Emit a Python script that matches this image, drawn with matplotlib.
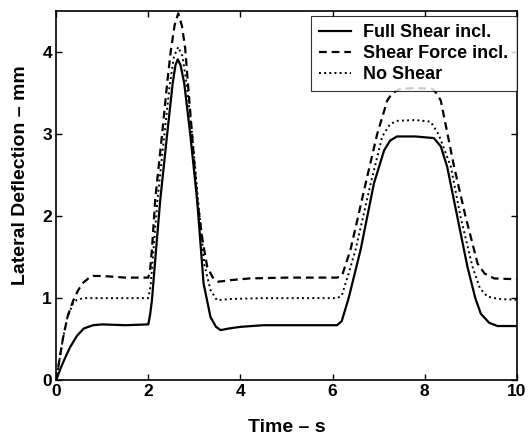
import numpy as np
import matplotlib.pyplot as plt

plt.rcParams['font.family'] = ['Liberation Sans', 'DejaVu Sans']
plt.rcParams['font.weight'] = 'bold'

# Full shear included
t_full = [0, 0.1, 0.2, 0.3, 0.45, 0.6, 0.8, 1.0, 1.5, 2.0, 2.04, 2.08, 2.17, 2.26, 2.41, 2.53,
          2.59, 2.64, 2.70, 2.78, 2.91, 3.06, 3.2, 3.35, 3.47, 3.57, 3.75, 4.0, 4.5, 5.5, 6.1,
          6.2, 6.35, 6.61, 6.9, 7.12, 7.25, 7.4, 7.8, 8.2, 8.35, 8.49, 8.71, 8.93, 9.1, 9.22,
          9.4, 9.58, 10]
y_full = [0, 0.15, 0.28, 0.40, 0.54, 0.63, 0.67, 0.68, 0.67, 0.68, 0.80, 0.98, 1.6, 2.2, 3.0, 3.62,
          3.84, 3.91, 3.84, 3.62, 3.0, 2.2, 1.18, 0.77, 0.65, 0.61, 0.63, 0.65, 0.67, 0.67, 0.67,
          0.72, 1.0, 1.59, 2.40, 2.80, 2.92, 2.97, 2.97, 2.95, 2.85, 2.60, 1.99, 1.38, 1.0, 0.81,
          0.70, 0.66, 0.66]

# Shear force included
t_force = [0, 0.08, 0.15, 0.25, 0.37, 0.48, 0.59, 0.7, 0.8, 1.0, 1.5, 2.0, 2.04, 2.08, 2.15,
           2.30, 2.41, 2.49, 2.57, 2.65, 2.73, 2.80, 2.86, 2.95, 3.06, 3.18, 3.28, 3.4, 3.52,
           3.8, 4.2, 5.0, 6.1, 6.21, 6.39, 6.55, 6.72, 6.97, 7.19, 7.3, 7.48, 7.8, 8.17, 8.25,
           8.35, 8.64, 8.89, 9.15, 9.3, 9.51, 10]
y_force = [0, 0.28, 0.52, 0.78, 0.97, 1.10, 1.19, 1.24, 1.27, 1.27, 1.25, 1.25, 1.35, 1.6, 2.2,
           3.0, 3.62, 4.02, 4.32, 4.47, 4.32, 4.05, 3.62, 3.0, 2.2, 1.7, 1.38, 1.25, 1.20,
           1.22, 1.24, 1.25, 1.25, 1.28, 1.59, 1.98, 2.40, 3.0, 3.41, 3.50, 3.55, 3.56, 3.55, 3.50,
           3.41, 2.6, 1.99, 1.42, 1.30, 1.24, 1.23]

# No shear
t_none = [0, 0.08, 0.15, 0.25, 0.37, 0.45, 0.6, 1.0, 1.5, 2.0, 2.05, 2.1, 2.2, 2.35, 2.47,
          2.56, 2.65, 2.74, 2.83, 2.95, 3.08, 3.22, 3.35, 3.49, 3.8, 4.5, 6.1, 6.2, 6.35,
          6.5, 6.83, 7.08, 7.25, 7.4, 7.8, 8.13, 8.3, 8.57, 8.78, 9.04, 9.2, 9.36, 9.6, 10]
y_none = [0, 0.28, 0.52, 0.78, 0.94, 0.98, 1.0, 1.0, 1.0, 1.0, 1.15, 1.5, 2.2, 3.0, 3.62,
          3.95, 4.06, 3.95, 3.62, 3.0, 2.2, 1.4, 1.1, 0.975, 0.99, 1.0, 1.0, 1.03, 1.3,
          1.59, 2.4, 2.97, 3.12, 3.16, 3.17, 3.15, 3.0, 2.6, 1.99, 1.38, 1.12, 1.02, 0.99, 0.98]

fig = plt.figure(figsize=(5.3, 4.36), dpi=100)
ax = fig.add_axes([0.106, 0.128, 0.869, 0.847])

ax.plot(t_full, y_full, 'k-', lw=1.6, label='Full Shear incl.')
ax.plot(t_force, y_force, 'k--', lw=1.6, dashes=(3.5, 2.2), label='Shear Force incl.')
ax.plot(t_none, y_none, 'k:', lw=1.4, label='No Shear')

ax.set_xlim(0, 10)
ax.set_ylim(0, 4.5)
ax.set_xticks([0, 2, 4, 6, 8, 10])
ax.set_yticks([0, 1, 2, 3, 4])
ax.tick_params(direction='in', top=True, right=True, length=4, width=1,
               labelsize=12.5, pad=3)
for lbl in ax.get_xticklabels() + ax.get_yticklabels():
    lbl.set_fontweight('bold')
for sp in ax.spines.values():
    sp.set_linewidth(1.2)

ax.set_xlabel('Time – s', fontsize=14, fontweight='bold', labelpad=14)
ax.set_ylabel('Lateral Deflection – mm', fontsize=14, fontweight='bold')
ax.yaxis.set_label_coords(-0.058, 0.556)

leg = ax.legend(loc='upper right', bbox_to_anchor=(1.0, 0.986), fontsize=13, frameon=True,
                fancybox=False, handlelength=1.75, handletextpad=0.7, borderpad=0.45,
                labelspacing=0.22, borderaxespad=0.0)
leg.get_frame().set_edgecolor('black')
leg.get_frame().set_linewidth(0.8)
for txt in leg.get_texts():
    txt.set_fontweight('bold')

fig.savefig('out.png', dpi=100)
